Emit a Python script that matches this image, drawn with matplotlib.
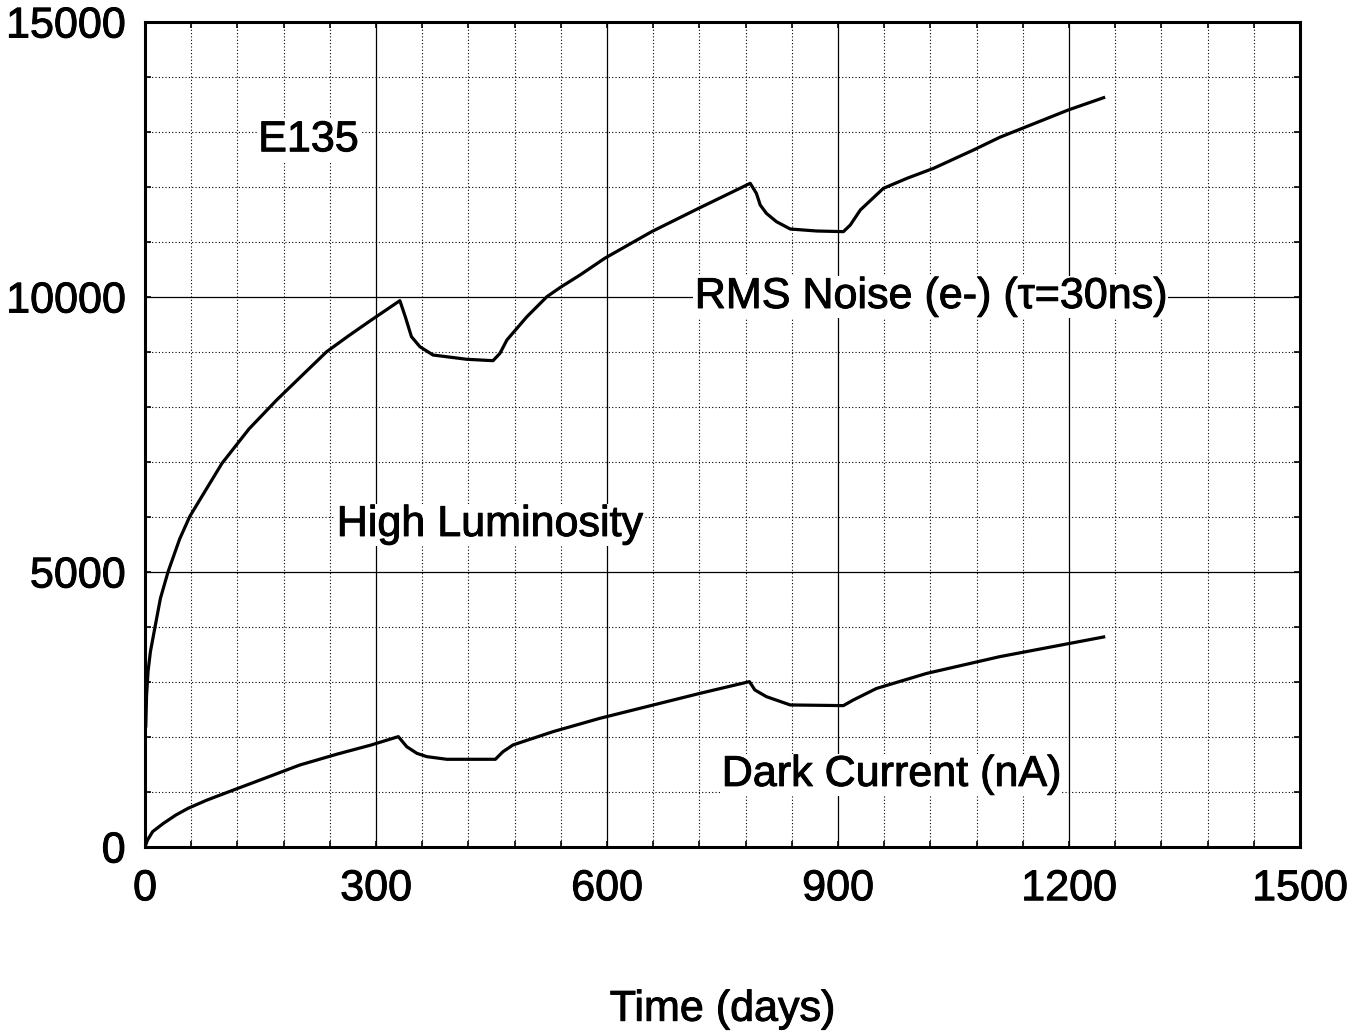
import matplotlib
matplotlib.use('Agg')
import matplotlib.pyplot as plt
import matplotlib.patheffects as pe
from matplotlib.ticker import MultipleLocator

plt.rcParams['font.family'] = ['Liberation Sans', 'DejaVu Sans']

# RMS noise (e-), tau = 30 ns
noise_t = [1, 2, 4, 7, 13, 20, 30, 45, 58, 75, 100, 135, 171, 200, 236, 265, 294,
           331, 338, 346, 357, 374, 418, 452, 461, 470, 496, 522, 540, 565, 597,
           658, 719, 786, 794, 799, 807, 820, 838, 872, 907, 916, 929, 959, 990,
           1024, 1076, 1110, 1199, 1245]
noise_v = [2200, 2750, 3200, 3550, 4000, 4520, 5006, 5600, 6006, 6400, 6976, 7600,
           8127, 8520, 9006, 9300, 9582, 9933, 9642, 9279, 9096, 8945, 8867, 8842,
           8976, 9218, 9642, 10006, 10180, 10400, 10703, 11188, 11612, 12067, 11885,
           11673, 11521, 11370, 11236, 11200, 11188, 11309, 11582, 11976, 12160,
           12339, 12673, 12903, 13400, 13624]

# Dark current (nA)
dark_t = [0, 3, 10, 24, 40, 56, 80, 115, 150, 201, 250, 294, 329, 340, 353, 366,
          392, 455, 465, 478, 530, 591, 721, 785, 792, 807, 838, 907, 920, 950,
          1015, 1110, 1245]
dark_v = [0, 120, 280, 430, 580, 703, 850, 1036, 1220, 1490, 1690, 1855, 2006, 1822,
          1703, 1642, 1594, 1594, 1733, 1855, 2097, 2340, 2794, 3006, 2855, 2733,
          2582, 2570, 2673, 2882, 3155, 3460, 3818]

fig = plt.figure(figsize=(13.54, 10.33), dpi=100)
ax = fig.add_axes([0.1071, 0.1801, 0.853, 0.7986])

ax.plot(noise_t, noise_v, color='black', lw=2.3, zorder=3)
ax.plot(dark_t, dark_v, color='black', lw=2.3, zorder=3)

ax.set_xlim(0, 1500)
ax.set_ylim(0, 15000)
ax.xaxis.set_major_locator(MultipleLocator(300))
ax.xaxis.set_minor_locator(MultipleLocator(60))
ax.yaxis.set_major_locator(MultipleLocator(5000))
ax.yaxis.set_minor_locator(MultipleLocator(1000))

ax.grid(which='major', color='black', lw=0.9, ls='-')
ax.grid(which='minor', color='black', lw=0.8, ls=(0, (1, 2)))
ax.set_axisbelow(True)

ax.tick_params(which='both', direction='in', top=True, right=True,
               length=4, width=1.2, labelsize=31)
ax.tick_params(axis='x', pad=16)
ax.tick_params(axis='y', pad=14)
for s in ax.spines.values():
    s.set_linewidth(2.2)

bold = [pe.withStroke(linewidth=0.7, foreground='black')]
for lab in ax.get_xticklabels() + ax.get_yticklabels():
    lab.set_path_effects(bold)

ax.set_xlabel('Time (days)', fontsize=31, labelpad=58, path_effects=bold)

box = dict(facecolor='white', edgecolor='none', pad=1)
kw = dict(fontsize=31, va='center', ha='left', bbox=box, zorder=4, path_effects=bold)
ax.text(147, 12850, 'E135', **kw)
ax.text(714, 10000, 'RMS Noise (e-) (\u03c4=30ns)', **kw)
ax.text(249, 5855, 'High Luminosity', **kw)
ax.text(749, 1310, 'Dark Current (nA)', **kw)

fig.savefig('out.png', dpi=100)
